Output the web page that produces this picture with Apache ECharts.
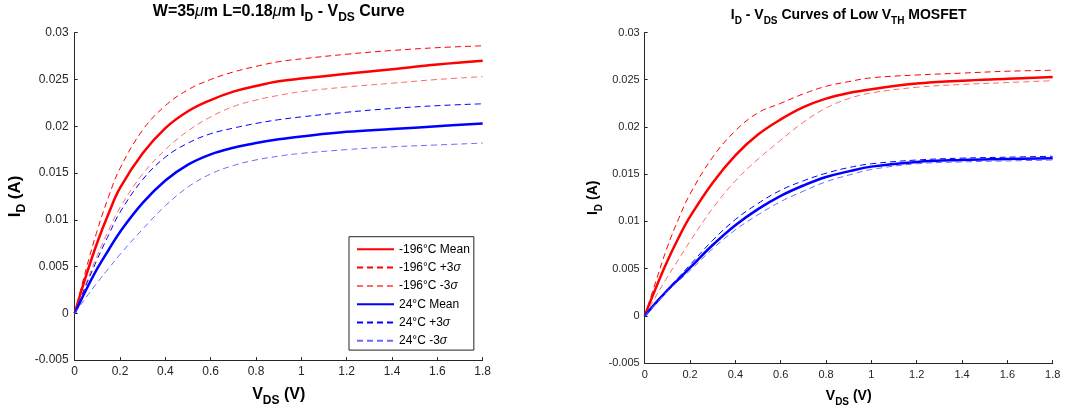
<!DOCTYPE html>
<html><head><meta charset="utf-8">
<script src="https://cdn.jsdelivr.net/npm/echarts@6/dist/echarts.min.js"></script>
<style>html,body{margin:0;padding:0;background:#fff}#c{width:1065px;height:412px}</style>
</head><body><div id="c"></div>
<script>
// V_DS sample points (V)
const vds = [0, 0.05, 0.1, 0.15, 0.2, 0.3, 0.4, 0.5, 0.6, 0.7, 0.8, 0.9, 1.0, 1.2, 1.4, 1.6, 1.8];

// Left panel: W=35um L=0.18um
const leftColdMean  = [0, .0040, .0076, .0107, .0134, .0171, .0198, .0216, .0228, .0237, .0243, .0248, .0251, .0256, .0261, .0266, .0270];
const leftColdPlus  = [0, .0047, .0089, .0125, .0155, .0196, .0222, .0239, .0250, .0258, .0264, .0269, .0272, .0277, .0281, .0284, .0286];
const leftColdMinus = [0, .0032, .0062, .0089, .0113, .0149, .0175, .0195, .0210, .0221, .0228, .0233, .0237, .0242, .0246, .0250, .0253];
const leftWarmMean  = [0, .0025, .0048, .0068, .0087, .0118, .0142, .0159, .0170, .0177, .0182, .0186, .0189, .0194, .0197, .0200, .0203];
const leftWarmPlus  = [0, .0030, .0058, .0084, .0108, .0143, .0167, .0182, .0192, .0198, .0203, .0207, .0210, .0215, .0219, .0222, .0224];
const leftWarmMinus = [0, .0017, .0033, .0048, .0063, .0090, .0115, .0135, .0149, .0158, .0164, .0168, .0171, .0175, .0178, .0180, .0182];

// Right panel: Low V_TH MOSFET
const rightColdMean  = [0, .0030, .0058, .0083, .0105, .0141, .0170, .0192, .0208, .0221, .0230, .0236, .0240, .0246, .0249, .0251, .0253];
const rightColdPlus  = [0, .0037, .0073, .0103, .0129, .0168, .0196, .0215, .0225, .0235, .0243, .0248, .0252, .0255, .0257, .0259, .0260];
const rightColdMinus = [0, .0021, .0041, .0060, .0079, .0114, .0143, .0166, .0186, .0205, .0220, .0230, .0236, .0242, .0245, .0247, .0249];
const rightWarmMean  = [0, .0014, .0027, .0039, .0051, .0075, .0096, .0113, .0127, .0138, .0147, .0153, .0158, .0163, .0165, .0166, .0167];
const rightWarmPlus  = [0, .0015, .0028, .0041, .0054, .0080, .0102, .0119, .0133, .0143, .0151, .0157, .0161, .0165, .0167, .0168, .0169];
const rightWarmMinus = [0, .0013, .0026, .0037, .0048, .0071, .0091, .0107, .0121, .0132, .0142, .0149, .0155, .0161, .0163, .0164, .0165];

const seriesNames = ['-196°C Mean', '-196°C +3σ', '-196°C -3σ', '24°C Mean', '24°C +3σ', '24°C -3σ'];

const FONT = 'Liberation Sans, Arial, Helvetica, sans-serif';
const AX = '#262626';
const RED = '#ff0000', RED2 = '#ff6a6a', BLUE = '#0000ff', BLUE2 = '#6a6aff';
const styles = [
  {color: RED, width: 2.5, type: 'solid'},
  {color: RED, width: 1, type: [6, 4]},
  {color: RED2, width: 1, type: [6, 4]},
  {color: BLUE, width: 2.5, type: 'solid'},
  {color: BLUE, width: 1, type: [6, 4]},
  {color: BLUE2, width: 1, type: [6, 4]}
];
const pair = arr => vds.map((x, i) => [x, arr[i]]);

function mkSeries(arrs, idx) {
  return arrs.map((a, i) => ({
    name: seriesNames[i], type: 'line', xAxisIndex: idx, yAxisIndex: idx,
    data: pair(a), symbol: 'none', smooth: 0.4,
    color: styles[i].color,
    lineStyle: {color: styles[i].color, width: styles[i].width, type: styles[i].type},
    z: 2 + i, animation: false
  }));
}

function xAxis(idx, tickSize, nameSize, subSize, gap, L) {
  return {
    gridIndex: idx, type: 'value', min: 0, max: 1.8, interval: 0.2,
    axisLine: {onZero: false, lineStyle: {color: AX, width: 1}},
    axisTick: {inside: true, length: 3, lineStyle: {color: AX}},
    axisLabel: {color: AX, fontSize: tickSize, fontFamily: FONT, margin: 6},
    splitLine: {show: false},
    name: 'V{sub|DS} (V)', nameLocation: 'middle', nameGap: gap,
    nameTextStyle: {fontFamily: FONT, fontSize: nameSize, fontWeight: 'bold', color: '#000', lineHeight: L,
      rich: {sub: {fontFamily: FONT, fontSize: subSize, fontWeight: 'bold', color: '#000', lineHeight: 8, verticalAlign: 'bottom'}}}
  };
}
function yAxis(idx, tickSize, nameSize, subSize, gap, L, margin) {
  return {
    gridIndex: idx, type: 'value', min: -0.005, max: 0.03, interval: 0.005,
    axisLine: {show: true, onZero: false, lineStyle: {color: AX, width: 1}},
    axisTick: {show: true, inside: true, length: 3, lineStyle: {color: AX}},
    axisLabel: {color: AX, fontSize: tickSize, fontFamily: FONT, margin: margin},
    splitLine: {show: false},
    name: 'I{sub|D} (A)', nameLocation: 'middle', nameRotate: 90, nameGap: gap,
    nameTextStyle: {fontFamily: FONT, fontSize: nameSize, fontWeight: 'bold', color: '#000', lineHeight: L,
      rich: {sub: {fontFamily: FONT, fontSize: subSize, fontWeight: 'bold', color: '#000', lineHeight: 8, verticalAlign: 'bottom'}}}
  };
}

const chart = echarts.init(document.getElementById('c'), null, {renderer: 'canvas'});
chart.setOption({
  animation: false,
  backgroundColor: '#ffffff',
  title: [
    {text: 'W=35{mu|μ}m L=0.18{mu|μ}m I{sub|D} - V{sub|DS} Curve', left: 278.7, top: 0, textAlign: 'center', padding: 0,
     textStyle: {fontFamily: FONT, fontSize: 16, fontWeight: 'bold', color: '#000', lineHeight: 24,
       rich: {mu: {fontFamily: FONT, fontSize: 16, fontStyle: 'italic', fontWeight: 'normal', color: '#000', lineHeight: 24},
              sub: {fontFamily: FONT, fontSize: 12, fontWeight: 'bold', color: '#000', lineHeight: 8, verticalAlign: 'bottom'}}}},
    {text: 'I{sub|D} - V{sub|DS} Curves of Low V{sub|TH} MOSFET', left: 848.7, top: 4, textAlign: 'center', padding: 0,
     textStyle: {fontFamily: FONT, fontSize: 14, fontWeight: 'bold', color: '#000', lineHeight: 22,
       rich: {sub: {fontFamily: FONT, fontSize: 10, fontWeight: 'bold', color: '#000', lineHeight: 8, verticalAlign: 'bottom'}}}}
  ],
  grid: [
    {left: 74.7, top: 32.7, width: 408, height: 330.6, containLabel: false},
    {left: 644.7, top: 32.5, width: 408, height: 335, containLabel: false}
  ],
  xAxis: [xAxis(0, 12, 16, 12, 20, 24), xAxis(1, 11, 14, 10, 17, 22)],
  yAxis: [yAxis(0, 12, 17, 12, 47, 24, 6), yAxis(1, 11, 14, 10, 40, 22, 5)],
  legend: {
    show: true, orient: 'vertical', left: 349, top: 236.7,
    data: seriesNames, selectedMode: false,
    itemWidth: 37, itemHeight: 14, itemGap: 4.3,
    padding: [5.6, 4, 2.3, 7],
    borderColor: '#262626', borderWidth: 1, backgroundColor: '#fff',
    itemStyle: {opacity: 0, borderWidth: 0},
    textStyle: {fontFamily: FONT, fontSize: 12, color: '#000', lineHeight: 14,
      rich: {s: {fontFamily: FONT, fontSize: 12, fontStyle: 'italic', color: '#000', lineHeight: 14}}},
    formatter: n => n.replace('σ', '{s|σ}')
  },
  series: [
    ...mkSeries([leftColdMean, leftColdPlus, leftColdMinus, leftWarmMean, leftWarmPlus, leftWarmMinus], 0),
    ...mkSeries([rightColdMean, rightColdPlus, rightColdMinus, rightWarmMean, rightWarmPlus, rightWarmMinus], 1)
  ]
});
</script></body></html>
